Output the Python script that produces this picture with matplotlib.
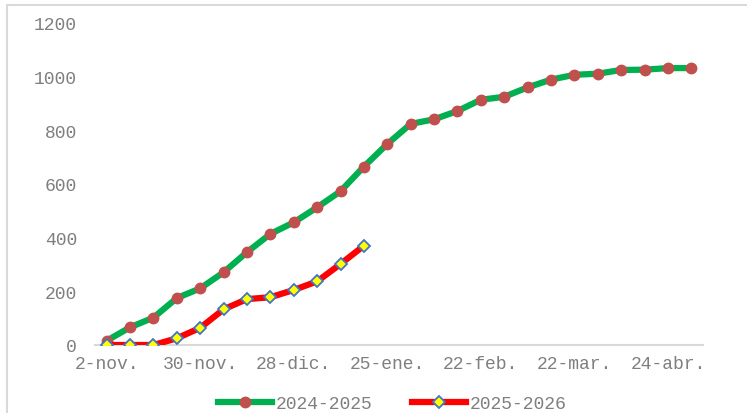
"""
Cumulative season curve, 2024-2025 vs 2025-2026.
"""

import matplotlib.pyplot as plt
import matplotlib.patches as patches

# weekly points, labels shown every 4th category
tick_labels = ["2-nov.", "30-nov.", "28-dic.", "25-ene.", "22-feb.", "22-mar.", "24-abr."]

season_2024 = [
    16, 66, 102, 175, 211, 271, 346, 414, 457, 513, 573, 665, 749,
    824, 841, 872, 914, 925, 960, 989, 1007, 1011, 1025, 1026, 1032, 1032,
]

season_2025 = [0, 0, 0, 25, 64, 133, 171, 178, 205, 237, 302, 370]

GRAY = "#7f7f7f"

plt.rcParams["font.family"] = ["Liberation Mono", "DejaVu Sans Mono"]
plt.rcParams["font.size"] = 13


def main():

    fig = plt.figure(figsize=(7.47, 4.14), dpi=100)

    ax = fig.add_axes([95 / 747, 68 / 414, 608 / 747, 322 / 414])

    x_old = list(range(len(season_2024)))
    x_new = list(range(len(season_2025)))

    ax.plot(
        x_old,
        season_2024,
        color="#00b050",
        linewidth=4.5,
        marker="o",
        markersize=7.5,
        markerfacecolor="#c0504d",
        markeredgecolor="#c0504d",
        label="2024-2025",
        zorder=3,
    )

    ax.plot(
        x_new,
        season_2025,
        color="#ff0000",
        linewidth=4.5,
        marker="D",
        markersize=6.5,
        markerfacecolor="#ffff00",
        markeredgecolor="#4472c4",
        markeredgewidth=1.3,
        label="2025-2026",
        zorder=4,
    )

    ax.set_xlim(-0.5, len(season_2024) - 0.5)
    ax.set_ylim(0, 1200)

    ax.set_xticks(range(0, 4 * len(tick_labels), 4))
    ax.set_xticklabels(tick_labels)
    ax.set_yticks(range(0, 1201, 200))

    ax.tick_params(axis="both", labelsize=13, labelcolor=GRAY)
    ax.tick_params(axis="y", length=0, pad=13)
    ax.tick_params(axis="x", length=0, pad=7)

    for side in ["left", "right", "top"]:
        ax.spines[side].set_visible(False)
    ax.spines["bottom"].set_color("#d9d9d9")
    ax.spines["bottom"].set_linewidth(1.5)

    fig.legend(
        loc="center",
        bbox_to_anchor=(0.525, 9 / 414),
        ncol=2,
        frameon=False,
        numpoints=1,
        handlelength=3.0,
        handletextpad=0.2,
        columnspacing=2.2,
        fontsize=13,
        labelcolor=GRAY,
    )

    # outer chart border (cut off on right and bottom)
    border = patches.Rectangle(
        (7 / 747, -0.05),
        1.1,
        0.05 + (414 - 6) / 414,
        transform=fig.transFigure,
        fill=False,
        edgecolor="#d9d9d9",
        linewidth=1.5,
        clip_on=False,
    )
    fig.patches.append(border)

    fig.savefig("out.png", dpi=100)
    plt.close(fig)


if __name__ == "__main__":

    main()
